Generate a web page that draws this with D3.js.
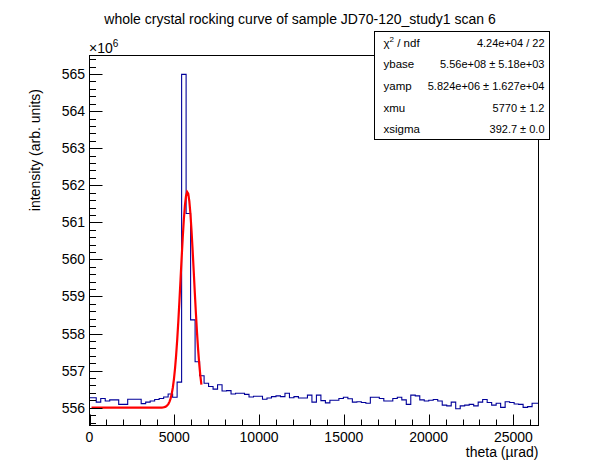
<!DOCTYPE html>
<html>
<head>
<meta charset="utf-8">
<script src="https://cdn.jsdelivr.net/npm/d3@7"></script>
<style>
  html, body { margin: 0; padding: 0; background: #fff; }
  svg { display: block; font-family: "Liberation Sans", Arial, sans-serif; }
</style>
</head>
<body>
<svg id="chart" width="598" height="474"></svg>
<script>
// ---------------- data ----------------
const titleText = "whole crystal rocking curve of sample JD70-120_study1 scan 6";
const xTitle = "theta (\u00b5rad)";
const yTitle = "intensity (arb. units)";
const yExponent = 6;                 // values below are in units of 10^6
const binStart = -132.5;             // low edge of first bin (µrad)
const binWidth = 265;                // bin width (µrad)
const counts = [
  556.27, 556.27, 556.15, 556.25, 556.18, 556.21, 556.21, 556.09, 556.09, 556.23,
  556.23, 556.23, 556.11, 556.15, 556.18, 556.22, 556.25, 556.29, 556.37, 556.28,
  556.69, 564.99, 561.24, 558.37, 557.24, 556.86, 556.66, 556.57, 556.50, 556.62,
  556.45, 556.46, 556.37, 556.39, 556.39, 556.36, 556.29, 556.31, 556.31, 556.23,
  556.26, 556.30, 556.32, 556.30, 556.39, 556.27, 556.30, 556.26, 556.26, 556.34,
  556.15, 556.34, 556.19, 556.13, 556.20, 556.20, 556.25, 556.28, 556.24, 556.15,
  556.16, 556.14, 556.12, 556.28, 556.28, 556.25, 556.18, 556.18, 556.25, 556.28,
  556.21, 556.09, 556.34, 556.32, 556.21, 556.18, 556.20, 556.22, 556.18, 556.07,
  556.05, 556.15, 555.97, 556.05, 556.07, 556.09, 556.05, 556.15, 556.22, 556.14,
  556.07, 556.12, 556.01, 556.16, 556.14, 556.10, 556.09, 556.01, 556.03, 556.12,
  556.12
];
const xTicks = [0, 5000, 10000, 15000, 20000, 25000];
const yTicks = [556, 557, 558, 559, 560, 561, 562, 563, 564, 565];
const xDomain = [0, 26480];
const yDomain = [555.52, 565.50];

// fit parameters (Gaussian + base), from the stat box
const fitParams = { ybase: 5.56e8, yamp: 5.824e6, xmu: 5770, xsigma: 392.7 };
const fitRange = [120, 6600];
const fitNpx = 100;

const statLabels = ["\u03c7\u00b2 / ndf", "ybase", "yamp", "xmu", "xsigma"];
const statValues = ["4.24e+04 / 22", "5.56e+08 \u00b1 5.18e+03", "5.824e+06 \u00b1 1.627e+04", "5770 \u00b1 1.2", "392.7 \u00b1 0.0"];

// ---------------- layout ----------------
const svg = d3.select("#chart");
const L = 89.5, R = 538.5, T = 55.5, B = 425.5;
const x = d3.scaleLinear().domain(xDomain).range([L, R]);
const y = d3.scaleLinear().domain(yDomain).range([B, T]);

svg.append("defs").append("clipPath").attr("id", "clip")
  .append("rect").attr("x", L).attr("y", T).attr("width", R - L).attr("height", B - T);

// histogram step outline
const pts = [];
counts.forEach((v, i) => {
  const lo = binStart + i * binWidth, hi = lo + binWidth;
  pts.push([lo, v], [hi, v]);
});
svg.append("path")
  .attr("clip-path", "url(#clip)")
  .attr("d", d3.line().x(d => x(d[0])).y(d => y(d[1]))(pts))
  .attr("fill", "none").attr("stroke", "#000099").attr("stroke-width", 1.1);

// fit curve
const fitPts = d3.range(fitNpx + 1).map(i => {
  const t = fitRange[0] + (fitRange[1] - fitRange[0]) * i / fitNpx;
  const val = fitParams.ybase + fitParams.yamp * Math.exp(-0.5 * Math.pow((t - fitParams.xmu) / fitParams.xsigma, 2));
  return [t, val / Math.pow(10, yExponent)];
});
svg.append("path")
  .attr("clip-path", "url(#clip)")
  .attr("d", d3.line().x(d => x(d[0])).y(d => y(d[1]))(fitPts))
  .attr("fill", "none").attr("stroke", "#ff0000").attr("stroke-width", 2.2);

// frame
svg.append("rect").attr("x", L).attr("y", T).attr("width", R - L).attr("height", B - T)
  .attr("fill", "none").attr("stroke", "#000").attr("stroke-width", 1);

// x axis ticks
const xMinor = d3.range(0, xDomain[1] + 1, 1000);
svg.append("g").selectAll("line").data(xMinor).join("line")
  .attr("x1", d => Math.round(x(d)) + 0.5).attr("x2", d => Math.round(x(d)) + 0.5)
  .attr("y1", B).attr("y2", d => xTicks.includes(d) ? B - 11 : B - 6)
  .attr("stroke", "#000");
svg.append("g").selectAll("text").data(xTicks).join("text")
  .attr("x", d => x(d)).attr("y", 442)
  .attr("text-anchor", "middle").attr("font-size", 14).text(d => d);
svg.append("text").attr("x", R).attr("y", 457).attr("text-anchor", "end")
  .attr("font-size", 14).text(xTitle);

// y axis ticks
const yMinor = d3.range(Math.ceil(yDomain[0] * 5), Math.floor(yDomain[1] * 5) + 1).map(k => k / 5);
svg.append("g").selectAll("line").data(yMinor).join("line")
  .attr("y1", d => Math.round(y(d)) + 0.5).attr("y2", d => Math.round(y(d)) + 0.5)
  .attr("x1", L).attr("x2", d => Math.abs(d - Math.round(d)) < 1e-6 ? L + 13 : L + 6.5)
  .attr("stroke", "#000");
svg.append("g").selectAll("text").data(yTicks).join("text")
  .attr("x", L - 4.5).attr("y", d => y(d) + 5)
  .attr("text-anchor", "end").attr("font-size", 14).text(d => d);
svg.append("text").attr("transform", `translate(40,${89}) rotate(-90)`)
  .attr("text-anchor", "end").attr("font-size", 14).text(yTitle);
const ex = svg.append("text").attr("x", L - 0.5).attr("y", 53).attr("font-size", 14);
ex.append("tspan").text("\u00d710");
ex.append("tspan").attr("dy", -6).attr("font-size", 10).text(yExponent);

// title
svg.append("text").attr("x", 300).attr("y", 24).attr("text-anchor", "middle")
  .attr("font-size", 14).text(titleText);

// stat box
const bx = 374.5, by = 31.5, bw = 175, bh = 108;
svg.append("rect").attr("x", bx).attr("y", by).attr("width", bw).attr("height", bh)
  .attr("fill", "#fff").attr("stroke", "#000").attr("stroke-width", 1);
const rowH = bh / statLabels.length;
statLabels.forEach((lab, i) => {
  const cy = by + rowH * (i + 0.5) + 4.5;
  const t = svg.append("text").attr("x", bx + 9).attr("y", cy).attr("font-size", 11.5);
  if (i === 0) {
    t.append("tspan").text("\u03c7");
    t.append("tspan").attr("dy", -5).attr("font-size", 8).text("2");
    t.append("tspan").attr("dy", 5).text(" / ndf");
  } else {
    t.text(lab);
  }
  svg.append("text").attr("x", bx + bw - 5).attr("y", cy).attr("text-anchor", "end")
    .attr("font-size", 11).text(statValues[i]);
});
</script>
</body>
</html>
